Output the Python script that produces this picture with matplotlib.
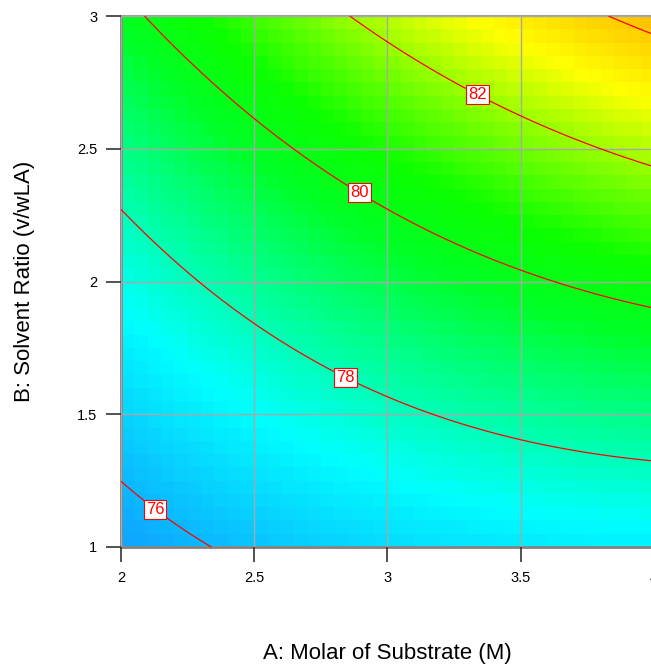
import matplotlib
matplotlib.use('Agg')
import matplotlib.pyplot as plt
import numpy as np
from matplotlib.colors import LinearSegmentedColormap

plt.rcParams['font.family'] = ['Liberation Sans', 'DejaVu Sans']

# points: A (M), B (v/wLA), response level
A_pts = [2.0, 2.322, 2.142,
         2.0, 2.5, 2.84, 3.5, 3.985,
         2.10, 2.5, 2.895, 3.5, 3.985,
         2.846, 3.345, 3.5, 3.985,
         3.854, 3.985]
B_pts = [1.252, 1.0, 1.162,
         2.273, 1.806, 1.633, 1.403, 1.32,
         3.0, 2.60, 2.333, 2.08, 1.90,
         3.0, 2.72, 2.612, 2.439,
         3.0, 2.917]
lvl_pts = [76, 76, 76,
           78, 78, 78, 78, 78,
           80, 80, 80, 80, 80,
           82, 82, 82, 82,
           84, 84]

levels = [76, 78, 80, 82, 84]
label_levels = [76, 78, 80, 82]
label_pos = [(2.14, 1.16), (2.84, 1.635), (2.895, 2.333), (3.345, 2.72)]

xticks = [2, 2.5, 3, 3.5, 4]
yticks = [1, 1.5, 2, 2.5, 3]

# quadratic response surface fitted to the contour points
A = np.array(A_pts)
B = np.array(B_pts)
X = np.column_stack([np.ones_like(A), A, B, A * B, A**2, B**2])
coef, *_ = np.linalg.lstsq(X, np.array(lvl_pts, float), rcond=None)

def model(a, b):
    return coef[0] + coef[1]*a + coef[2]*b + coef[3]*a*b + coef[4]*a**2 + coef[5]*b**2

# colours like the design software palette
vmin, vmax = 75.0, 85.0
nodes = [(75.0, (0.08, 0.50, 1.0)),
         (77.2, (0.0, 1.0, 1.0)),
         (79.6, (0.0, 1.0, 0.15)),
         (80.6, (0.05, 1.0, 0.0)),
         (83.0, (1.0, 1.0, 0.0)),
         (85.0, (1.0, 0.60, 0.0))]
cmap = LinearSegmentedColormap.from_list(
    'de', [((v - vmin) / (vmax - vmin), c) for v, c in nodes])

fig = plt.figure(figsize=(6.51, 6.64), dpi=100)
ax = fig.add_axes([121/651, 117/664, 533/651, 531/664])

n = 40
ca = np.linspace(2, 4, n + 1)
cb = np.linspace(1, 3, n + 1)
ma, mb = np.meshgrid((ca[:-1] + ca[1:]) / 2, (cb[:-1] + cb[1:]) / 2)
ax.imshow(model(ma, mb), extent=(2, 4, 1, 3), origin='lower', aspect='auto',
          cmap=cmap, vmin=vmin, vmax=vmax, interpolation='nearest', zorder=0)

fa, fb = np.meshgrid(np.linspace(2, 4, 300), np.linspace(1, 3, 300))
cs = ax.contour(fa, fb, model(fa, fb), levels=levels, colors='red',
                linewidths=0.9, zorder=3)
lbls = ax.clabel(cs, levels=label_levels, manual=label_pos, fmt='%d',
                 fontsize=10.5, colors='red', inline=True)
for t in lbls:
    t.set_rotation(0)
    t.set_fontsize(12)
    t.set_bbox(dict(facecolor='white', edgecolor='red', linewidth=0.8, pad=1.5))

ax.set_xlim(2, 4)
ax.set_ylim(1, 3)
ax.set_xticks(xticks)
ax.set_xticklabels(['2', '2.5', '3', '3.5', '4'])
ax.set_yticks(yticks)
ax.set_yticklabels(['1', '1.5', '2', '2.5', '3'])
ax.grid(True, color='#a8a8a8', linewidth=1.0, zorder=2)
ax.set_axisbelow(False)
ax.tick_params(direction='out', length=11, width=1.2, color='#333333',
               labelsize=10.5, pad=6)
for s in ['left', 'bottom']:
    ax.spines[s].set_color('#808080')
    ax.spines[s].set_linewidth(2)
ax.spines['top'].set_color('#a0a0a0')
ax.spines['top'].set_linewidth(1.5)
ax.spines['right'].set_visible(False)

ax.set_xlabel('A: Molar of Substrate (M)', fontsize=16, labelpad=42)
ax.set_ylabel('B: Solvent Ratio (v/wLA)', fontsize=16, labelpad=30)

plt.savefig('out.png', dpi=100)
